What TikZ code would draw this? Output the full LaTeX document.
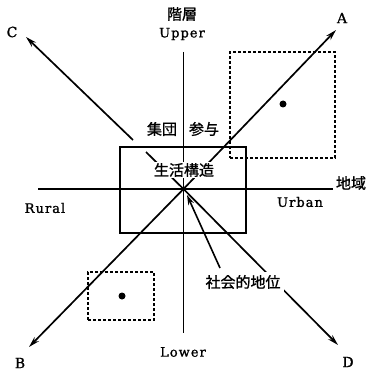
\documentclass[tikz,border=0pt]{standalone}
\usepackage{fontspec}
\newfontfamily\lat{DejaVu Serif}[LetterSpace=8,FakeBold=1.2]
\newfontfamily\jp{Noto Sans CJK JP}[FakeBold=1.2]
\usetikzlibrary{arrows.meta}
\tikzset{
  axisline/.style={line width=1.8pt},
  ray/.style={line width=1.7pt,-{Stealth[length=11pt,width=6pt]}},
  frame/.style={draw,line width=2.6pt,minimum width=126pt,minimum height=86pt,inner sep=0pt},
  dbox/.style={draw,line width=1.5pt,dash pattern=on 3pt off 2pt,inner sep=0pt},
  dot/.style={circle,fill=black,minimum size=7pt,inner sep=0pt},
  lattxt/.style={font=\lat\fontsize{13}{15}\selectfont,inner sep=1pt},
  jptxt/.style={font=\jp\fontsize{15}{17}\selectfont,inner sep=1pt},
  mask/.style={fill=white,inner sep=3pt}
}
\begin{document}
\begin{tikzpicture}[x=1pt,y=-1pt]
\useasboundingbox (0,0) rectangle (369,371);
% key points
\coordinate (O) at (183.5,189);
\coordinate (Hl) at (38,189);
\coordinate (Hr) at (333,189);
\coordinate (Vt) at (183.5,52);
\coordinate (Vb) at (183.5,333);
\coordinate (Ct) at (26,37);
\coordinate (At) at (336,30);
\coordinate (Bt) at (29,347);
\coordinate (Dt) at (338,345);
\coordinate (c1) at (146,152);
\coordinate (c2) at (133,140);
\coordinate (p1) at (220,268);
\coordinate (p2) at (187,195);
% boxes
\node[frame] (R) at (183,190) {};
\node[dbox,minimum width=105pt,minimum height=106pt] (TR) at (282.5,105) {};
\node[dbox,minimum width=66pt,minimum height=48pt] (BL) at (121,296) {};
\node[dot] (d1) at (283,104) {};
\node[dot] (d2) at (122,296) {};
% axes
\draw[axisline] (Hl) -- (Hr);
\draw[axisline] (Vt) -- (Vb);
% rays
\draw[line width=1.7pt] (O) -- (c1);
\draw[ray] (c2) -- (Ct);
\draw[ray] (O) -- (At);
\draw[ray] (O) -- (Bt);
\draw[ray] (O) -- (Dt);
\draw[line width=1.6pt,-{Stealth[length=10pt,width=6pt]}] (p1) -- (p2);
% masked labels
\node[jptxt,mask,inner ysep=1.5pt] (LS) at (184,170) {生活構造};
\node[jptxt,mask] (SS) at (243,282) {社会的地位};
% other labels
\node[jptxt] (K) at (182,14) {階層};
\node[lattxt] (U) at (182,34) {Upper};
\node[lattxt] (L) at (183,352) {Lower};
\node[lattxt] (Ru) at (45,208) {Rural};
\node[lattxt] (Ur) at (300,202) {Urban};
\node[jptxt] (Ch) at (351,183) {地域};
\node[jptxt] (G1) at (162,129) {集団};
\node[jptxt] (G2) at (204,129) {参与};
\node[lattxt,font=\lat\fontsize{14}{16}\selectfont] (LA) at (342,18) {A};
\node[lattxt,font=\lat\fontsize{14}{16}\selectfont] (LB) at (20,363) {B};
\node[lattxt,font=\lat\fontsize{14}{16}\selectfont] (LC) at (12,32) {C};
\node[lattxt,font=\lat\fontsize{14}{16}\selectfont] (LD) at (348,362) {D};
\end{tikzpicture}
\end{document}
